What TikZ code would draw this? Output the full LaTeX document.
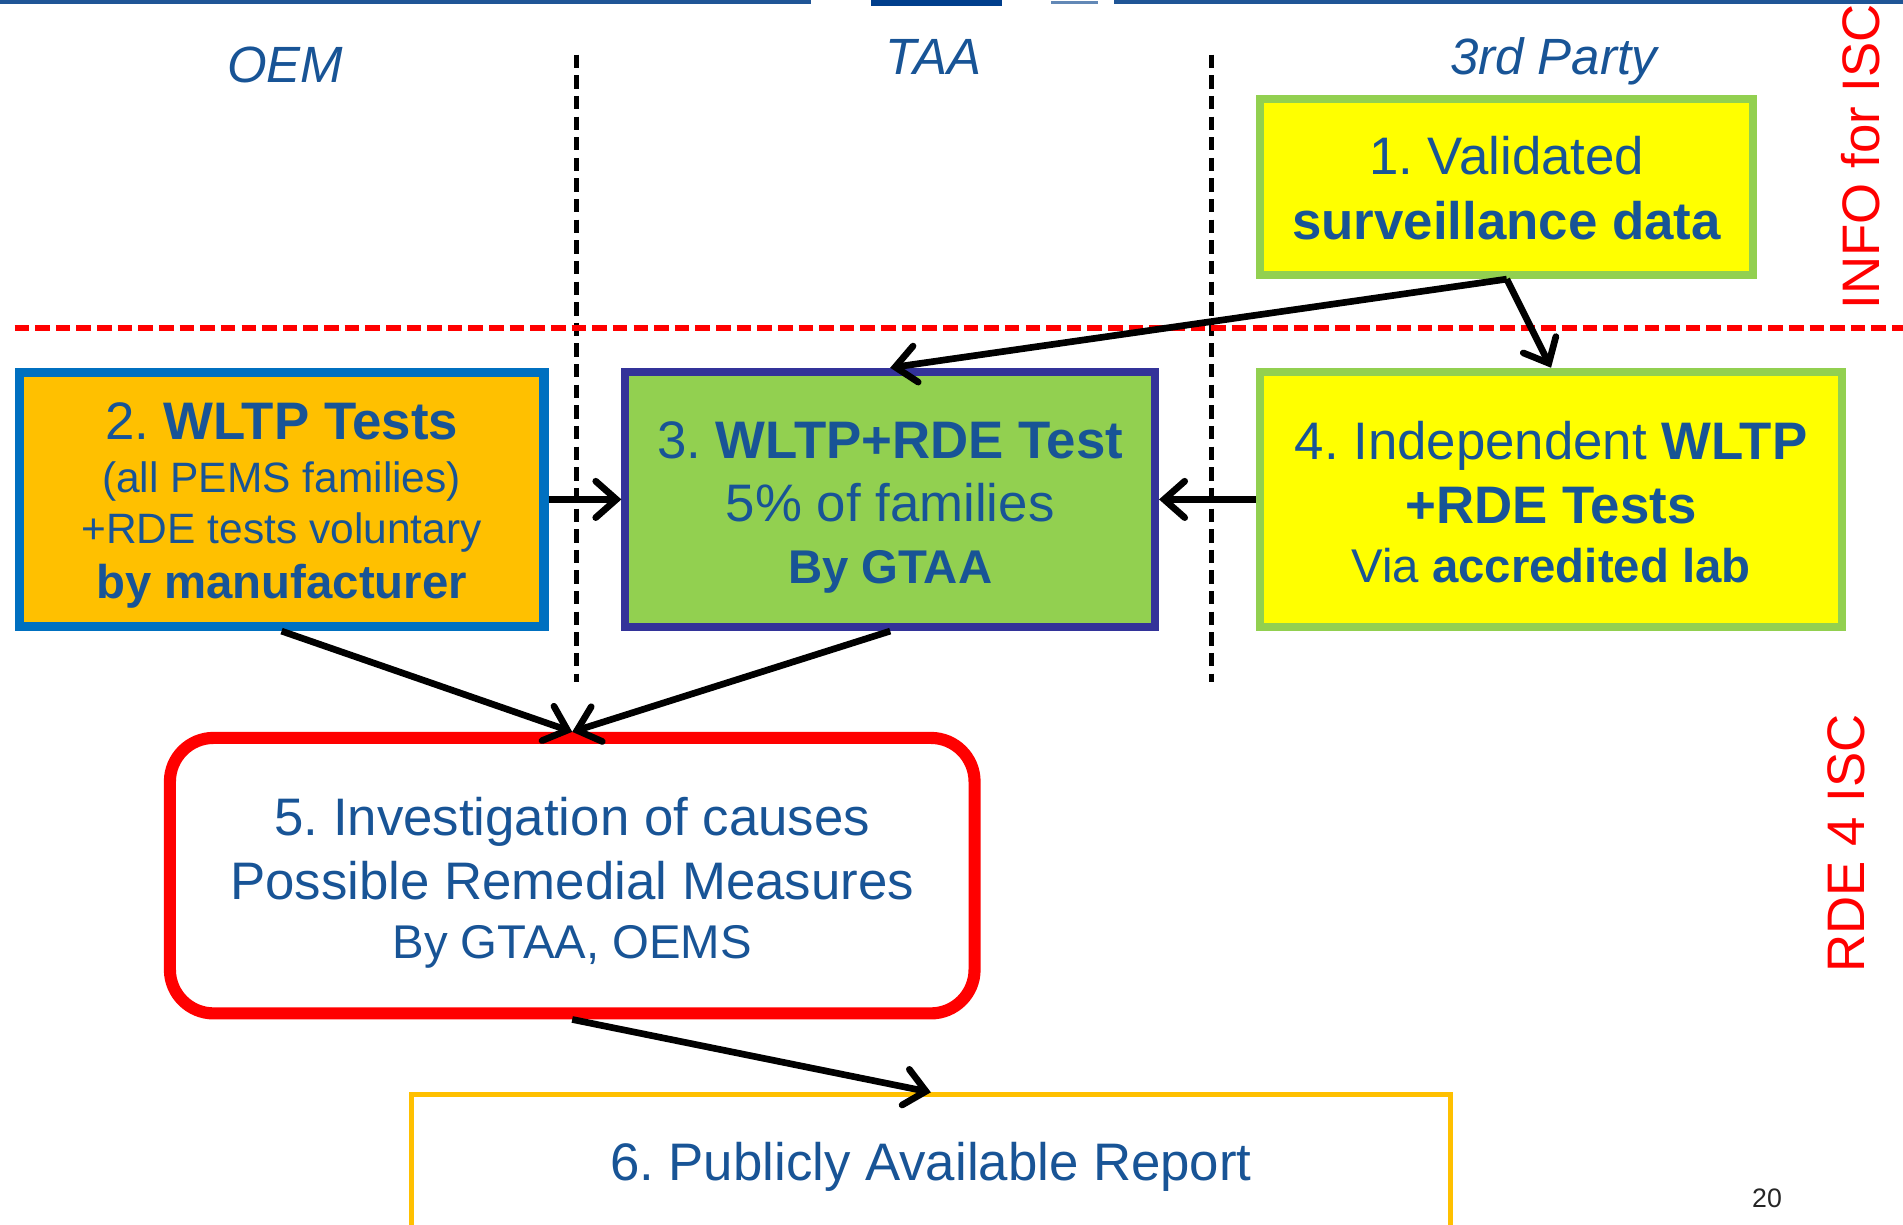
\documentclass[tikz,border=0pt]{standalone}
\usepackage{fontspec}
\setmainfont{Liberation Sans}
\usetikzlibrary{arrows.meta}
\definecolor{tblue}{RGB}{24,84,150}
\definecolor{lblue}{RGB}{31,85,150}
\definecolor{dblue}{RGB}{0,62,140}
\definecolor{yel}{RGB}{255,255,0}
\definecolor{grn}{RGB}{146,208,80}
\definecolor{org}{RGB}{255,192,0}
\definecolor{bordblue}{RGB}{0,112,192}
\definecolor{indigo}{RGB}{51,51,153}
\definecolor{rd}{RGB}{255,0,0}
\frenchspacing
\tikzset{
  box/.style={rectangle, inner sep=0pt},
  txt/.style={anchor=base, inner sep=0pt, text=tblue},
  fbig/.style={font=\fontsize{43.5}{50}\selectfont},
  fmid/.style={font=\fontsize{39}{46}\selectfont},
  fsmall/.style={font=\fontsize{35}{42}\selectfont},
  fhead/.style={font=\fontsize{42}{50}\selectfont\itshape},
  fvert/.style={font=\fontsize{43.5}{50}\selectfont, text=rd, rotate=90, inner sep=0pt},
  conn/.style={line width=5.5pt, -{Straight Barb[length=17pt,width=30pt,line width=5.5pt,line cap=round]}},
  sep/.style={line width=4pt, dash pattern=on 11pt off 6pt},
}
\begin{document}
\begin{tikzpicture}[x=1pt,y=-1pt]
\useasboundingbox (0,0) rectangle (1568,1009);
\fill[white] (0,0) rectangle (1568,1009);

% top blue rule
\fill[lblue] (0,0) rectangle (668,3.5);
\fill[dblue] (718,0) rectangle (826,5);
\fill[lblue!70] (866,1) rectangle (905,3);
\fill[lblue] (918,0) rectangle (1568,3.5);

% column headers
\node[txt, fhead] (hoem) at (235,68) {OEM};
\node[txt, fhead] (htaa) at (769,61) {TAA};
\node[txt, fhead] (h3rd) at (1280,61) {3rd Party};

% separators
\coordinate (s1t) at (475,45); \coordinate (s1b) at (475,562);
\coordinate (s2t) at (998,45); \coordinate (s2b) at (998,562);
\draw[sep] (s1t) -- (s1b);
\draw[sep] (s2t) -- (s2b);

% red dashed line
\coordinate (rl) at (12,270); \coordinate (rr) at (1568,270);
\draw[rd, line width=5pt, dash pattern=on 12pt off 5pt] (rl) -- (rr);

% side labels
\node[fvert] (info) at (1533,129) {INFO for ISC};
\node[fvert] (rde4) at (1521,695) {RDE 4 ISC};

% boxes
\node[box, fill=yel, draw=grn, line width=6.5pt, minimum width=406.5pt, minimum height=145.5pt] (b1) at (1241.5,154) {};
\node[box, fill=org, draw=bordblue, line width=7.5pt, minimum width=432.5pt, minimum height=209.5pt] (b2) at (232,411.5) {};
\node[box, fill=grn, draw=indigo, line width=6.5pt, minimum width=436.5pt, minimum height=210.5pt] (b3) at (733.5,411.5) {};
\node[box, fill=yel, draw=grn, line width=6.5pt, minimum width=479.5pt, minimum height=210.5pt] (b4) at (1278,411.5) {};
\node[box, fill=white, draw=rd, line width=10pt, rounded corners=36pt, minimum width=663pt, minimum height=227pt] (b5) at (471.5,721.5) {};
\node[box, fill=white, draw=org, line width=4pt, minimum width=856pt, minimum height=110pt] (b6) at (767,957) {};

% box texts
\node[txt, fbig] (t1a) at (1241.5,143.5) {1. Validated};
\node[txt, fbig] (t1b) at (1241.5,197.5) {\textbf{surveillance data}};

\node[txt, fbig] (t2a) at (232,362) {2. \textbf{WLTP Tests}};
\node[txt, fsmall] (t2b) at (232,406) {(all PEMS families)};
\node[txt, fsmall] (t2c) at (232,448) {+RDE tests voluntary};
\node[txt, fmid] (t2d) at (232,493) {\textbf{by manufacturer}};

\node[txt, fbig] (t3a) at (733.5,377.5) {3. \textbf{WLTP+RDE Test}};
\node[txt, fbig] (t3b) at (733.5,430) {5\% of families};
\node[txt, fmid] (t3c) at (733.5,481) {\textbf{By GTAA}};

\node[txt, fbig] (t4a) at (1278,378.5) {4. Independent \textbf{WLTP}};
\node[txt, fbig] (t4b) at (1278,431.5) {\textbf{+RDE Tests}};
\node[txt, fmid] (t4c) at (1278,480) {Via \textbf{accredited lab}};

\node[txt, fbig] (t5a) at (471.5,688.5) {5. Investigation of causes};
\node[txt, fbig] (t5b) at (471.5,741.5) {Possible Remedial Measures};
\node[txt, fmid] (t5c) at (471.5,790) {By GTAA, OEMS};

\node[txt, fbig] (t6) at (767,972.5) {6. Publicly Available Report};

% page number
\node[anchor=base, inner sep=0pt, font=\fontsize{22}{26}\selectfont, text=black!85] (pg) at (1456,995) {20};

% connectors
\draw[conn] (b1.south) -- (b3.north);
\draw[conn] (b1.south) -- (b4.north);
\draw[conn] (b2.east) -- (b3.west);
\draw[conn] (b4.west) -- (b3.east);
\draw[conn] (b2.south) -- (b5.north);
\draw[conn] (b3.south) -- (b5.north);
\draw[conn] (b5.south) -- (b6.north);
\end{tikzpicture}
\end{document}
